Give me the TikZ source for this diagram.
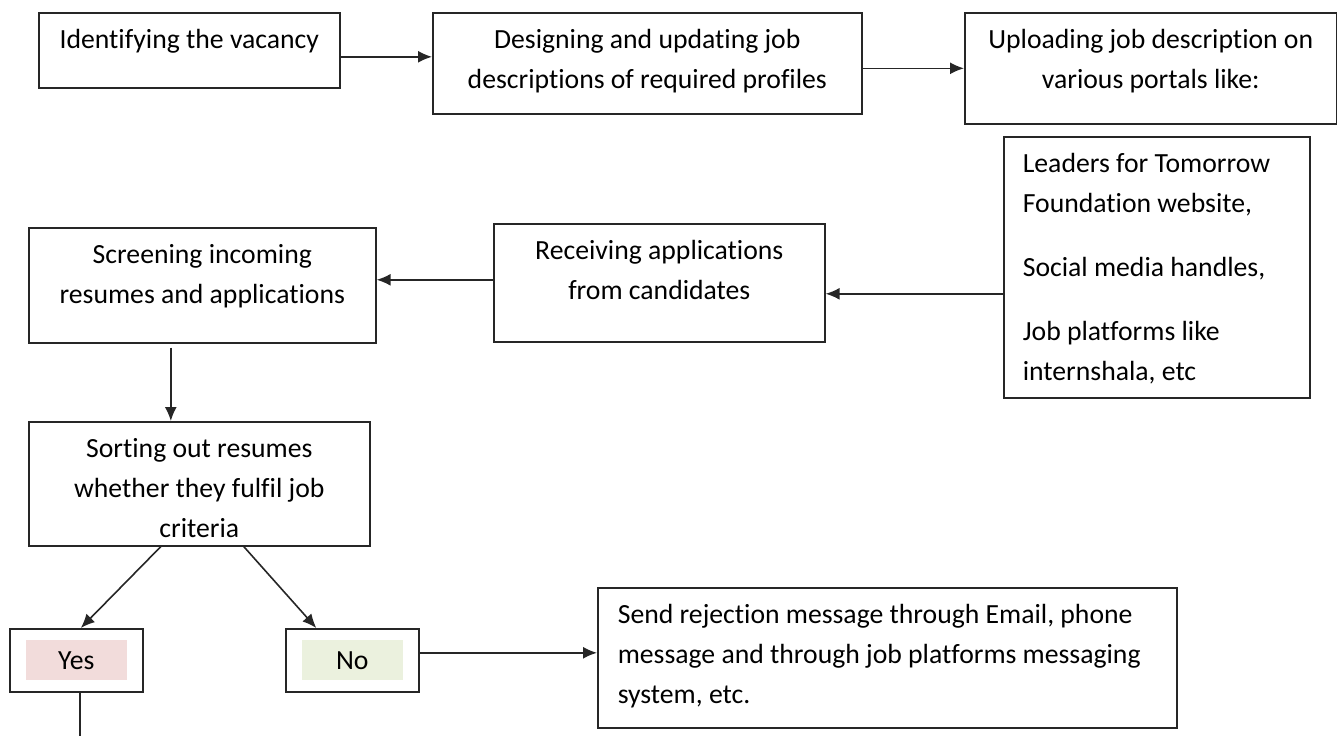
\documentclass[tikz,border=0pt]{standalone}
\usepackage{fontspec}
\setmainfont{Carlito}[RawFeature={-liga;-clig;-calt;-rlig;-dlig}]
\usepackage{tikz}
\usetikzlibrary{arrows.meta}
\definecolor{yespink}{RGB}{242,220,219}
\definecolor{nogreen}{RGB}{235,241,222}
\newcommand{\boxtext}[3]{\parbox[c][#2][t]{#1}{\centering\rule{0pt}{36pt}#3}}
\newcommand{\boxlist}[3]{\parbox[c][#2][t]{#1}{\raggedright\leftskip=19pt\parskip=24pt\rule{0pt}{36pt}#3}}
\newcommand{\choicetext}[2]{{\fboxsep=0pt\colorbox{#1}{\parbox[c][40pt][c]{101pt}{\centering #2}}}}
\tikzset{
  procbox/.style = {draw=black!85, line width=1.6pt, inner sep=0pt, anchor=north west,
    font=\fontsize{27.7pt}{40pt}\selectfont},
  choicebox/.style = {procbox, minimum width=133pt, minimum height=63pt},
  flowarrow/.style = {-{Latex[length=14pt, width=12pt]}, line width=1.6pt, draw=black!85}
}

\begin{document}
\begin{tikzpicture}[x=1pt, y=-1pt]
        \useasboundingbox (0,0) rectangle (1337,736);
        % top row
        \node [procbox] (vacancy) at (38,12)
            {\boxtext{301pt}{75pt}{Identifying the vacancy}};
        \node [procbox] (design) at (432,12)
            {\boxtext{429pt}{101pt}{Designing and updating job\\descriptions of required profiles}};
        \node [procbox] (upload) at (964,12)
            {\boxtext{372pt}{111pt}{Uploading job description on\\various portals like:}};
        \node [procbox] (portals) at (1003,136)
            {\boxlist{306pt}{261pt}{Leaders for Tomorrow\\Foundation website,\par
                Social media handles,\par
                Job platforms like\\internshala, etc}};
        % middle row
        \node [procbox] (receive) at (493,223)
            {\boxtext{331pt}{118pt}{Receiving applications\\from candidates}};
        \node [procbox] (screen) at (28,227)
            {\boxtext{347pt}{115pt}{Screening incoming\\resumes and applications}};
        \node [procbox] (sort) at (28,421)
            {\boxtext{341pt}{124pt}{Sorting out resumes\\whether they fulfil job\\criteria}};
        % decision
        \node [choicebox] (yes) at (9,628) {\choicetext{yespink}{Yes}};
        \node [choicebox] (no) at (285,628) {\choicetext{nogreen}{No}};
        \node [procbox] (reject) at (597,587)
            {\parbox[c][140pt][t]{579pt}{\raggedright\leftskip=20pt\rule{0pt}{36pt}Send rejection message through Email, phone\\message and through job platforms messaging\\system, etc.}};
        \coordinate (onward) at ([xshift=3.5pt]yes.south |- 0,736);

        \draw [flowarrow] ([yshift=-6.5pt]vacancy.east) -- ([yshift=-6.5pt]vacancy.east -| design.west);
        \draw [flowarrow] (design.east |- upload.west) -- (upload.west);
        \draw [flowarrow] ([yshift=-26.5pt]portals.west) -- ([yshift=-26.5pt]portals.west -| receive.east);
        \draw [flowarrow] ([yshift=3pt]receive.west) -- ([yshift=3pt]receive.west -| screen.east);
        \draw [flowarrow] ([xshift=-31.5pt, yshift=-4pt]screen.south) -- ([xshift=-31.5pt]screen.south |- sort.north);
        \draw [flowarrow] ([xshift=-38.5pt]sort.south) -- ([xshift=4.5pt]yes.north);
        \draw [flowarrow] ([xshift=44.5pt]sort.south) -- ([xshift=-36pt]no.north);
        \draw [line width=1.6pt, draw=black!85] ([xshift=3.5pt]yes.south) -- (onward);
        \draw [flowarrow] ([yshift=7.5pt]no.east) -- ([yshift=7.5pt]no.east -| reject.west);
\end{tikzpicture}
\end{document}
